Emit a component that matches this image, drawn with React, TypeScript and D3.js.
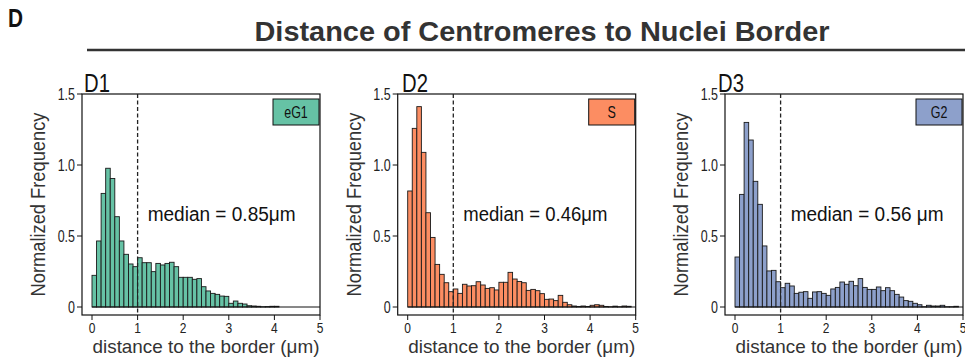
import React from "react";
import * as d3 from "d3";

// ---- data ----
const binEdges = d3.range(0, 5.0001, 0.1).map((v) => +v.toFixed(1)); // 51 edges, 50 bins
const xTicks = [0, 1, 2, 3, 4, 5];
const yTicks = [0, 0.5, 1.0, 1.5];
const yTickLabels = ["0", "0.5", "1.0", "1.5"];
const panelIds = ["D1", "D2", "D3"];
const phaseNames = ["eG1", "S", "G2"];
const medianTexts = ["median = 0.85\u03bcm", "median = 0.46\u03bcm", "median = 0.56 \u03bcm"];
const medianLine = [1, 1, 1];
const phaseColors = ["#66c2a5", "#fc8d62", "#8da0cb"];

const eG1Values = [
  0.223, 0.465, 0.8, 0.977, 0.905, 0.636, 0.465, 0.371, 0.303, 0.284,
  0.347, 0.312, 0.312, 0.249, 0.307, 0.296, 0.307, 0.315, 0.284, 0.209,
  0.209, 0.209, 0.195, 0.2, 0.143, 0.113, 0.096, 0.089, 0.077, 0.075,
  0.026, 0.042, 0.026, 0.021, 0.009, 0.007, 0.005, 0.002, 0.003, 0.005,
  0.005, 0, 0, 0, 0, 0, 0, 0, 0, 0,
];
const sValues = [
  0.817, 1.258, 1.411, 1.089, 0.664, 0.49, 0.3, 0.23, 0.171, 0.108,
  0.127, 0.096, 0.16, 0.148, 0.15, 0.178, 0.155, 0.131, 0.136, 0.12,
  0.174, 0.174, 0.244, 0.197, 0.18, 0.171, 0.117, 0.124, 0.115, 0.094,
  0.054, 0.056, 0.045, 0.082, 0.033, 0.016, 0.007, 0.004, 0.007, 0.004,
  0.012, 0.016, 0.012, 0.004, 0.002, 0.006, 0.002, 0.007, 0.005, 0,
];
const g2Values = [
  0.352, 0.793, 1.3, 1.176, 0.885, 0.723, 0.43, 0.254, 0.258, 0.178,
  0.136, 0.167, 0.148, 0.096, 0.104, 0.108, 0.061, 0.106, 0.108, 0.096,
  0.082, 0.127, 0.138, 0.176, 0.16, 0.181, 0.15, 0.2, 0.138, 0.124,
  0.124, 0.141, 0.115, 0.136, 0.115, 0.089, 0.07, 0.045, 0.04, 0.026,
  0.016, 0.002, 0.012, 0.007, 0.007, 0.012, 0.002, 0.002, 0.005, 0,
];
const seriesValues = [eG1Values, sValues, g2Values];

// ---- layout ----
const W = 965;
const H = 360;
const FONT = "'Liberation Sans', Arial, sans-serif";
const layout = [
  { x0: 92, x5: 320, left: 82, idX: 84, idY: 92, medianLen: 148 },
  { x0: 407.7, x5: 635.7, left: 397.7, idX: 402, idY: 92, medianLen: 144 },
  { x0: 735, x5: 963, left: 725, idX: 718, idY: 92, medianLen: 153 },
];
const plotTop = 94;
const plotBottom = 315;
const yZero = 307;

// narrow-looking text: horizontally compressed Liberation Sans
function NText({
  x,
  y,
  sx = 0.8,
  size,
  anchor = "start",
  fill = "#222",
  weight = "normal",
  children,
}: {
  x: number;
  y: number;
  sx?: number;
  size: number;
  anchor?: string;
  fill?: string;
  weight?: string;
  children: React.ReactNode;
}) {
  return (
    <text
      transform={`translate(${x},${y}) scale(${sx},1)`}
      textAnchor={anchor}
      fontFamily={FONT}
      fontSize={size}
      fontWeight={weight}
      fill={fill}
    >
      {children}
    </text>
  );
}

function Panel({ i }: { i: number }) {
  const L = layout[i];
  const values = seriesValues[i];
  const color = phaseColors[i];
  const x = d3.scaleLinear().domain([0, 5]).range([L.x0, L.x5]);
  const y = d3.scaleLinear().domain([0, 1.5]).range([yZero, plotTop]);
  const right = L.x5;
  const cx = (L.x0 + L.x5) / 2;
  return (
    <g>
      {/* panel id */}
      <NText x={L.idX} y={L.idY} size={26} sx={0.78} fill="#111">
        {panelIds[i]}
      </NText>
      {/* bars */}
      {values.map((v, k) =>
        v > 0 ? (
          <rect
            key={k}
            x={x(binEdges[k])}
            y={y(v)}
            width={x(binEdges[k + 1]) - x(binEdges[k])}
            height={y(0) - y(v)}
            fill={color}
            stroke="#1a1a1a"
            strokeWidth={0.9}
          />
        ) : null
      )}
      {/* baseline */}
      <line x1={x(0)} x2={right} y1={y(0)} y2={y(0)} stroke="#111" strokeWidth={1} />
      {/* box */}
      <rect x={L.left} y={plotTop} width={right - L.left} height={plotBottom - plotTop} fill="none" stroke="#111" strokeWidth={1.2} />
      {/* median dashed line */}
      <line
        x1={x(medianLine[i])}
        x2={x(medianLine[i])}
        y1={plotTop}
        y2={plotBottom}
        stroke="#222"
        strokeWidth={1.3}
        strokeDasharray="4,2.5"
      />
      {/* y ticks */}
      {yTicks.map((t, k) => (
        <g key={k}>
          <line x1={L.left - 5} x2={L.left} y1={y(t)} y2={y(t)} stroke="#111" strokeWidth={1} />
          <NText x={L.left - 7} y={y(t) + 5.5} anchor="end" size={16} sx={0.78}>
            {yTickLabels[k]}
          </NText>
        </g>
      ))}
      {/* x ticks */}
      {xTicks.map((t) => (
        <g key={t}>
          <line x1={x(t)} x2={x(t)} y1={plotBottom} y2={plotBottom + 5} stroke="#111" strokeWidth={1} />
          <NText x={x(t)} y={plotBottom + 18} anchor="middle" size={15} sx={0.8}>
            {t}
          </NText>
        </g>
      ))}
      {/* axis labels */}
      <text
        x={cx}
        y={353}
        textAnchor="middle"
        fontFamily={FONT}
        fontSize={18.5}
        fill="#333"
        textLength={227}
        lengthAdjust="spacingAndGlyphs"
      >
        distance to the border ({"\u03bc"}m)
      </text>
      <text
        transform={`translate(${L.left - 37},${(plotTop + plotBottom) / 2}) rotate(-90)`}
        textAnchor="middle"
        fontFamily={FONT}
        fontSize={20}
        fill="#333"
        textLength={184}
        lengthAdjust="spacingAndGlyphs"
      >
        Normalized Frequency
      </text>
      {/* median text */}
      <text
        x={x(1.22)}
        y={221}
        fontFamily={FONT}
        fontSize={20}
        fill="#111"
        textLength={L.medianLen}
        lengthAdjust="spacingAndGlyphs"
      >
        {medianTexts[i]}
      </text>
      {/* legend */}
      <rect x={right - 47} y={99} width={46} height={26} fill={color} stroke="#111" strokeWidth={1} />
      <NText x={right - 24} y={118} anchor="middle" size={16} sx={0.78} fill="#111">
        {phaseNames[i]}
      </NText>
    </g>
  );
}

export default function App() {
  return (
    <svg width={W} height={H} style={{ display: "block", position: "absolute", left: 0, top: 0 }}>
      <rect width={W} height={H} fill="#fff" />
      <NText x={8} y={27} size={26} sx={0.8} weight="bold" fill="#111">
        D
      </NText>
      <text
        x={542}
        y={41}
        textAnchor="middle"
        fontFamily={FONT}
        fontWeight="bold"
        fontSize={27}
        fill="#333"
        textLength={575}
        lengthAdjust="spacingAndGlyphs"
      >
        Distance of Centromeres to Nuclei Border
      </text>
      <line x1={87} x2={965} y1={50} y2={50} stroke="#333" strokeWidth={2.6} />
      {[0, 1, 2].map((i) => (
        <Panel key={i} i={i} />
      ))}
    </svg>
  );
}
